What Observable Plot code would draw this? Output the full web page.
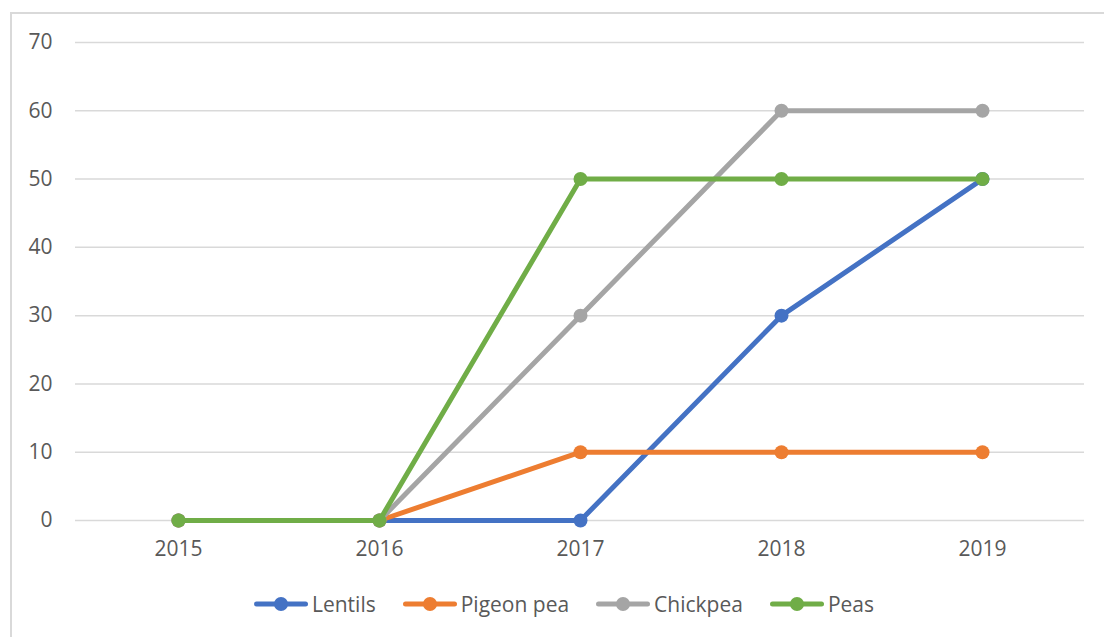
<!DOCTYPE html>
<html>
<head>
<meta charset="utf-8">
<script src="https://cdn.jsdelivr.net/npm/d3@7"></script>
<script src="https://cdn.jsdelivr.net/npm/@observablehq/plot@0.6"></script>
<style>
  html, body { margin: 0; padding: 0; background: #fff; overflow: hidden; }
  #wrap { position: relative; width: 1104px; height: 637px; overflow: hidden; font-family: "Open Sans", sans-serif; }
  #frame { position: absolute; left: 10px; top: 12px; width: 1200px; height: 700px; border: 2px solid #d9d9d9; box-sizing: border-box; }
  #chart { position: absolute; left: 0; top: 0; }
  #legend { position: absolute; left: 0; top: 590px; width: 1128px; display: flex; justify-content: center; gap: 27px; font-size: 21px; color: #595959; line-height: 28px; }
  .item { display: flex; align-items: center; gap: 4px; }
  .item svg { display: block; }
</style>
</head>
<body>
<div id="wrap">
  <div id="frame"></div>
  <div id="chart"></div>
  <div id="legend"></div>
</div>
<script>
// Pulse crop figures by year
const years = ["2015", "2016", "2017", "2018", "2019"];
const seriesNames = ["Lentils", "Pigeon pea", "Chickpea", "Peas"];
const seriesColors = ["#4472C4", "#ED7D31", "#A5A5A5", "#70AD47"];
const lentils = [0, 0, 0, 30, 50];
const pigeonPea = [0, 0, 10, 10, 10];
const chickpea = [0, 0, 30, 60, 60];
const peas = [0, 0, 50, 50, 50];
const yTicks = [0, 10, 20, 30, 40, 50, 60, 70];

const valuesBySeries = [lentils, pigeonPea, chickpea, peas];
const rows = seriesNames.flatMap((name, i) =>
  years.map((year, j) => ({series: name, year, value: valuesBySeries[i][j]}))
);

const font = "\"Open Sans\", sans-serif";

// One line + markers per series, drawn in series order so later series sit on top
const seriesMarks = seriesNames.flatMap(name => {
  const d = rows.filter(r => r.series === name);
  return [
    Plot.line(d, {x: "year", y: "value", stroke: "series", strokeWidth: 5, strokeLinejoin: "round", strokeLinecap: "round"}),
    Plot.dot(d, {x: "year", y: "value", fill: "series", r: 7, stroke: "none"})
  ];
});

const chart = Plot.plot({
  width: 1104,
  height: 580,
  marginLeft: 75,
  marginRight: 20,
  marginTop: 42,
  marginBottom: 60,
  style: {fontFamily: font, fontSize: "21px", color: "#595959", background: "transparent", overflow: "visible"},
  x: {type: "point", domain: years, padding: 0.5, label: null},
  y: {domain: [0, 70], label: null},
  color: {domain: seriesNames, range: seriesColors},
  marks: [
    Plot.gridY(yTicks, {stroke: "#d9d9d9", strokeOpacity: 1, strokeWidth: 1.5}),
    Plot.axisY(yTicks, {tickSize: 0, tickPadding: 23, label: null, fill: "#595959", fontSize: 21}),
    Plot.axisX({tickSize: 0, tickPadding: 21, label: null, fill: "#595959", fontSize: 21}),
    ...seriesMarks
  ]
});
document.getElementById("chart").appendChild(chart);

// Legend: line-with-marker swatch followed by the series name
const legend = d3.select("#legend");
seriesNames.forEach((name, i) => {
  const item = legend.append("div").attr("class", "item");
  const svg = item.append("svg").attr("width", 54).attr("height", 16);
  svg.append("line").attr("x1", 2.5).attr("x2", 51.5).attr("y1", 8).attr("y2", 8)
    .attr("stroke", seriesColors[i]).attr("stroke-width", 5).attr("stroke-linecap", "round");
  svg.append("circle").attr("cx", 27).attr("cy", 8).attr("r", 7).attr("fill", seriesColors[i]);
  item.append("span").text(name);
});
</script>
</body>
</html>
